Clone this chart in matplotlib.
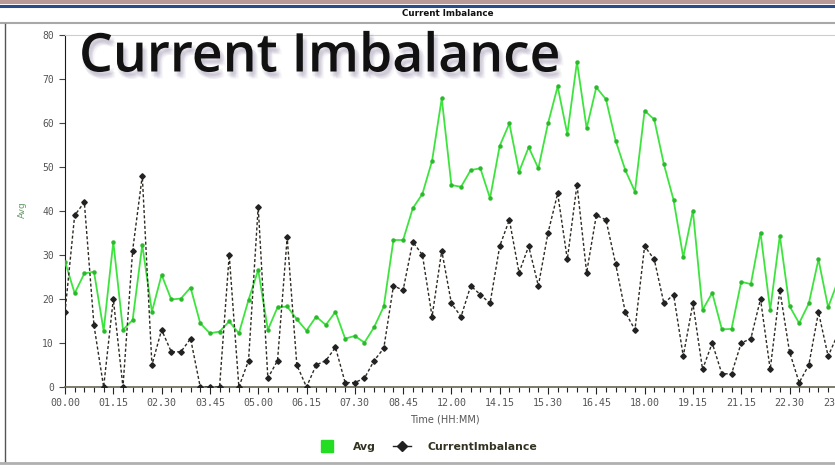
import matplotlib
matplotlib.use("Agg")
import matplotlib.pyplot as plt
import matplotlib.patheffects as pe
from matplotlib.lines import Line2D
from matplotlib.patches import Rectangle

# values, one point every 15 minutes
time_labels = ["00.00", "01.15", "02.30", "03.45", "05.00", "06.15", "07.30", "08.45",
               "12.00", "14.15", "15.30", "16.45", "18.00", "19.15", "21.15", "22.30", "23.45"]

avg = [28.5, 21.3, 25.8, 26.2, 12.8, 33.0, 13.0, 15.2, 32.3, 17.1,
       25.5, 19.9, 20.1, 22.6, 14.5, 12.2, 12.6, 14.9, 12.2, 19.8,
       26.6, 13.0, 18.1, 18.3, 15.4, 12.8, 16.0, 14.1, 17.1, 11.0,
       11.6, 10.1, 13.6, 18.3, 33.4, 33.4, 40.6, 43.9, 51.4, 65.6,
       45.9, 45.5, 49.3, 49.7, 42.9, 54.8, 59.9, 48.9, 54.5, 49.7,
       59.9, 68.3, 57.5, 73.9, 58.8, 68.1, 65.4, 56.0, 49.3, 44.4,
       62.8, 60.8, 50.6, 42.5, 29.5, 40.1, 17.5, 21.4, 13.1, 13.2,
       23.9, 23.4, 35.1, 17.5, 34.4, 18.4, 14.5, 19.0, 29.0, 18.1,
       24.0]

imbalance = [17, 39, 42, 14, 0, 20, 0, 31, 48, 5,
             13, 8, 8, 11, 0, 0, 0, 30, 0, 6,
             41, 2, 6, 34, 5, 0, 5, 6, 9, 1,
             1, 2, 6, 8.8, 23, 22, 33, 30, 16, 31,
             19, 16, 23, 21, 19, 32, 38, 26, 32, 23,
             35, 44, 29, 46, 26, 39, 38, 28, 17, 13,
             32, 29, 19, 21, 7, 19, 4, 10, 3, 3,
             10, 11, 20, 4, 22, 8, 1, 5, 17, 7,
             12]

W, H = 835, 469
fig = plt.figure(figsize=(W / 100, H / 100), dpi=100)

# page decorations: top bars, header, panel frame
fig.add_artist(Rectangle((0, 1 - 4 / H), 1, 4 / H, transform=fig.transFigure,
                         color="#b89a98", lw=0))
fig.add_artist(Line2D([0, 1], [1 - 6 / H, 1 - 6 / H], transform=fig.transFigure,
                      color="#2a4a8a", lw=2.2))
fig.text(448 / W, 1 - 14 / H, "Current Imbalance", ha="center", va="center",
         fontsize=6.3, fontweight="bold", color="#111111")
fig.add_artist(Line2D([0, 1], [1 - 23 / H, 1 - 23 / H], transform=fig.transFigure,
                      color="#a8a8a8", lw=1.5))
fig.add_artist(Line2D([4.5 / W, 4.5 / W], [1 - 462 / H, 1 - 24 / H],
                      transform=fig.transFigure, color="#555555", lw=1))
fig.add_artist(Line2D([0, 1], [1 - 463 / H, 1 - 463 / H], transform=fig.transFigure,
                      color="#b0b0b0", lw=2))

# axes: 9.66 px per point, right side runs off the figure
px = 9.66
x_max = 82
left, bottom, top = 65, 387, 35
ax = fig.add_axes([left / W, 1 - bottom / H, x_max * px / W, (bottom - top) / H])

xs = list(range(len(avg)))
ax.plot(xs, avg, color="#3ee43e", lw=1.3, marker="o", ms=2.2, mec="#2cb82c",
        mfc="#2cb82c", label="Avg", zorder=3)
ax.plot(xs, imbalance, color="#2e2a22", lw=1.0, ls=(0, (2.2, 1.6)), marker="D",
        ms=2.8, mfc="#222222", mec="#222222", label="CurrentImbalance", zorder=4)

ax.set_xlim(0, x_max)
ax.set_ylim(0, 80)
ax.set_xticks(range(0, 5 * len(time_labels), 5))
ax.set_xticklabels(time_labels)
ax.set_xticks(range(0, x_max + 1), minor=True)
ax.set_yticks(range(0, 81, 10))

ax.tick_params(axis="x", which="major", direction="out", length=5, width=0.8,
               labelsize=7.2, colors="#222222", labelcolor="#555555", pad=3)
ax.tick_params(axis="x", which="minor", direction="out", length=3.5, width=0.8,
               colors="#222222")
ax.tick_params(axis="y", direction="out", length=4, width=0.8, labelsize=7,
               colors="#444444", labelcolor="#555555", pad=4)
for lab in ax.get_xticklabels() + ax.get_yticklabels():
    lab.set_family("DejaVu Sans Mono")

ax.spines["left"].set_color("#1a1a1a")
ax.spines["bottom"].set_color("#666655")
ax.spines["bottom"].set_linewidth(1.2)
ax.spines["top"].set_color("#c8d0c8")
ax.spines["right"].set_visible(False)

fig.text(445 / W, 1 - 419 / H, "Time (HH:MM)", ha="center", va="center",
         fontsize=7, color="#555555")
fig.text(22 / W, 1 - 210 / H, "Avg", ha="center", va="center", rotation=90,
         fontsize=6.5, color="#6a9a6a")

# legend
handles = [Line2D([], [], ls="none", marker="s", ms=8, mfc="#22dd22", mec="#22dd22"),
           Line2D([], [], color="#222222", lw=1, marker="D", ms=5, mfc="#222222")]
fig.legend(handles, ["Avg", "CurrentImbalance"], loc="center", ncol=2,
           bbox_to_anchor=(428 / W, 1 - 447 / H), frameon=False, handlelength=1.6,
           columnspacing=1.6, handletextpad=1.6,
           prop={"size": 7.8, "weight": "bold"}, labelcolor="#333322")

# big overlay caption with a soft shadow
shadow = [pe.SimplePatchShadow(offset=o, shadow_rgbFace="#5a4a7a", alpha=0.05)
          for o in [(2, -3), (3, -4), (1, -4), (4, -5), (2, -5), (3, -2), (0, -3)]]
fig.text(79 / W, 1 - 58 / H, "Current Imbalance", ha="left", va="center",
         fontsize=38.5, family="Open Sans", fontweight="semibold", color="#111111",
         path_effects=shadow + [pe.Normal()])

fig.savefig("out.png", dpi=100)
